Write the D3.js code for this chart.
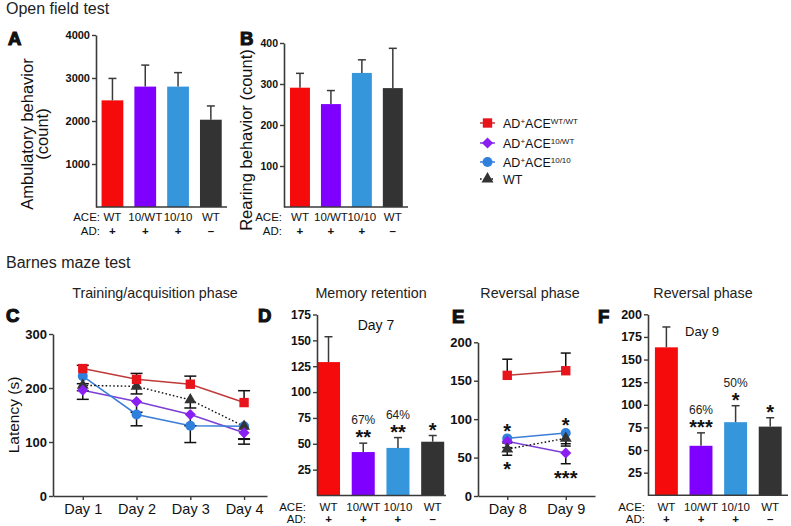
<!DOCTYPE html>
<html><head><meta charset="utf-8">
<script src="https://cdn.jsdelivr.net/npm/d3@7"></script>
<style>
body{margin:0;background:#fff;}
svg{display:block;}
</style></head><body>
<svg id="chart" width="791" height="526"></svg>
<script>
// ---------------- DATA ----------------
const aceLabels = ["WT", "10/WT", "10/10", "WT"];
const adLabels = ["+", "+", "+", "\u2013"];
const legendSup = ["WT/WT", "10/WT", "10/10"];

const ambulatoryMean = [2480, 2800, 2800, 2030];
const ambulatorySem  = [510, 500, 325, 320];
const ambulatoryTicks = [1000, 2000, 3000, 4000];

const rearingMean = [291, 251, 327, 290];
const rearingSem  = [35, 33, 32, 97];
const rearingTicks = [100, 200, 300, 400];

const trainingDays = ["Day 1", "Day 2", "Day 3", "Day 4"];
const trainingRed = [236, 216, 207, 173];
const trainingRedSem = [6, 11, 15, 22];
const trainingPurple = [196, 175, 151, 117];
const trainingPurpleSem = [17, 20, 21, 21];
const trainingBlue = [222, 151, 130, 129];
const trainingBlueSem = [14, 21, 31, 24];
const trainingWT = [205, 203, 178, 129];
const trainingWTSem = [10, 14, 15, 23];
const trainingTicks = [0, 100, 200, 300];

const retentionMean = [129, 42, 46, 52];
const retentionSem  = [24.5, 8.6, 10, 6];
const retentionTicks = [25, 50, 75, 100, 125, 150, 175];
const retentionPct = ["", "67%", "64%", ""];
const retentionStars = ["", "**", "**", "*"];

const reversalDays = ["Day 8", "Day 9"];
const reversalRed = [157, 163];
const reversalRedSem = [21, 23];
const reversalPurple = [71, 56];
const reversalPurpleSem = [8, 14];
const reversalBlue = [75, 82];
const reversalBlueSem = [6, 14];
const reversalWT = [61, 75];
const reversalWTSem = [8, 10];
const reversalStarsAbove = ["*", "*"];
const reversalStarsBelow = ["*", "***"];
const reversalTicks = [0, 50, 100, 150, 200];

const day9Mean = [163.5, 54.7, 80.8, 75.9];
const day9Sem  = [22.5, 14.3, 18.2, 9.8];
const day9Ticks = [25, 50, 75, 100, 125, 150, 175, 200];
const day9Pct = ["", "66%", "50%", ""];
const day9Stars = ["", "***", "*", "*"];

// ---------------- STYLE ----------------
const FONT = '"Liberation Sans", Arial, Helvetica, sans-serif';
const AXIS = "#3a3a3a";
const barColors = ["#f50b0b", "#7f00ff", "#3596dc", "#333333"];
const markerFill = ["#e8141c", "#8a1ff2", "#2f7fdc", "#333333"];
const lineColor = ["#c03a3a", "#7b3fd6", "#3a7ed6", "#111111"];
const ROW_FONT = 11.5;

const svg = d3.select("#chart").style("font-family", FONT);

function txt(x, y, s, size, opts = {}) {
  const t = svg.append("text").attr("x", x).attr("y", y).text(s)
    .style("font-size", size + "px").attr("fill", opts.fill || "#111")
    .attr("text-anchor", opts.anchor || "start")
    .style("font-weight", opts.weight || "normal");
  if (opts.rotate) t.attr("transform", `rotate(-90,${x},${y})`);
  return t;
}
function letter(x, y, s) {
  txt(x, y, s, 18.5, { weight: "bold" }).attr("stroke", "#111").attr("stroke-width", 1.2);
}
function styleAxis(g, size, bold) {
  g.select(".domain").attr("stroke", AXIS).attr("stroke-width", 1.6);
  g.selectAll(".tick line").attr("stroke", AXIS).attr("stroke-width", 1.4);
  g.selectAll(".tick text").attr("fill", "#111").style("font-size", size + "px")
    .style("font-weight", bold ? "bold" : "normal").style("font-family", FONT);
}
function starBase(cy, fs) { return cy + 0.56 * fs; }
const fmt = d3.format("d");

// ---------------- BAR PANEL ----------------
function barPanel(o) {
  const y = d3.scaleLinear().domain([0, o.max]).range([o.yBottom, o.yTop]);
  const x = d3.scaleBand().domain(d3.range(o.means.length)).range(o.band)
    .paddingInner(o.padIn).paddingOuter(o.padOut);
  const g = svg.append("g");
  const cx = i => x(i) + x.bandwidth() / 2;
  g.selectAll("rect").data(o.means).join("rect")
    .attr("x", (d, i) => x(i)).attr("width", x.bandwidth())
    .attr("y", d => y(d)).attr("height", d => y(0) - y(d))
    .attr("fill", (d, i) => barColors[i]);
  o.means.forEach((m, i) => {
    const top = y(m + o.sems[i]);
    g.append("line").attr("x1", cx(i)).attr("x2", cx(i)).attr("y1", y(m)).attr("y2", top)
      .attr("stroke", "#3a3a3a").attr("stroke-width", 1.5);
    g.append("line").attr("x1", cx(i) - 4).attr("x2", cx(i) + 4).attr("y1", top).attr("y2", top)
      .attr("stroke", "#3a3a3a").attr("stroke-width", 1.5);
    if (o.pct && o.pct[i]) txt(cx(i), top - 23 + 4.3, o.pct[i], 12, { anchor: "middle", fill: "#222" });
    if (o.stars && o.stars[i]) txt(cx(i), starBase(top - 10, 20), o.stars[i], 20, { anchor: "middle", weight: "bold" });
  });
  const ya = g.append("g").attr("transform", `translate(${o.axisX},0)`)
    .call(d3.axisLeft(y).tickValues(o.ticks).tickFormat(fmt).tickSize(4).tickPadding(2).tickSizeOuter(0));
  styleAxis(ya, o.tickFont, true);
  g.append("line").attr("x1", o.axisX).attr("x2", o.axisEnd).attr("y1", y(0)).attr("y2", y(0))
    .attr("stroke", AXIS).attr("stroke-width", 1.6);
  // ACE / AD rows
  txt(o.labelX, o.aceY, "ACE:", ROW_FONT, { anchor: "end" });
  txt(o.labelX, o.adY, "AD:", ROW_FONT, { anchor: "end" });
  aceLabels.forEach((s, i) => txt(cx(i), o.aceY, s, ROW_FONT, { anchor: "middle" }));
  adLabels.forEach((s, i) => txt(cx(i), o.adY, s, ROW_FONT, { anchor: "middle", weight: "bold" }));
  return { x, y };
}

// ---------------- LINE PANEL ----------------
function drawMarker(g, kind, px, py, fill) {
  if (kind === "diamond") {
    g.append("path").attr("d", d3.symbol(d3.symbolSquare, 62)())
      .attr("transform", `translate(${px},${py}) rotate(45)`).attr("fill", fill);
  } else {
    const t = { square: d3.symbolSquare, circle: d3.symbolCircle, triangle: d3.symbolTriangle }[kind];
    const s = { square: 88, circle: 78, triangle: 62 }[kind];
    g.append("path").attr("d", d3.symbol(t, s)()).attr("transform", `translate(${px},${py})`).attr("fill", fill);
  }
}
function linePanel(o) {
  const y = d3.scaleLinear().domain([0, o.max]).range([o.yBottom, o.yTop]);
  const x = d3.scalePoint().domain(o.days).range(o.xRange).padding(o.pad).align(o.align);
  const g = svg.append("g");
  const ya = g.append("g").attr("transform", `translate(${o.xRange[0]},0)`)
    .call(d3.axisLeft(y).tickValues(o.ticks).tickFormat(fmt).tickSize(4).tickPadding(2).tickSizeOuter(0));
  styleAxis(ya, o.tickFont, true);
  const xa = g.append("g").attr("transform", `translate(0,${o.yBottom})`)
    .call(d3.axisBottom(x).tickSize(4).tickPadding(4).tickSizeOuter(0));
  styleAxis(xa, 14.5, false);
  const line = d3.line().x((d, i) => x(o.days[i])).y(d => y(d));
  o.series.forEach(s => {
    g.append("path").attr("d", line(s.vals)).attr("fill", "none")
      .attr("stroke", lineColor[s.ci]).attr("stroke-width", s.dotted ? 1.4 : 1.5)
      .attr("stroke-dasharray", s.dotted ? "1.6,2.2" : null);
  });
  o.series.forEach(s => {
    s.vals.forEach((v, i) => {
      const px = x(o.days[i]);
      const e = y(v + s.dir * s.sems[i]);
      g.append("line").attr("x1", px).attr("x2", px).attr("y1", y(v)).attr("y2", e)
        .attr("stroke", "#111").attr("stroke-width", 1.5);
      g.append("line").attr("x1", px - o.cap).attr("x2", px + o.cap).attr("y1", e).attr("y2", e)
        .attr("stroke", "#111").attr("stroke-width", 1.5);
    });
  });
  o.order.forEach(k => {
    const s = o.series[k];
    s.vals.forEach((v, i) => drawMarker(g, s.marker, x(o.days[i]), y(v), markerFill[s.ci]));
  });
  return { x, y };
}

// ---------------- TITLES ----------------
txt(6, 13.5, "Open field test", 16, { fill: "#222" });
txt(6, 268, "Barnes maze test", 16, { fill: "#222" });

// ---------------- PANEL A ----------------
letter(8, 45, "A");
barPanel({ means: ambulatoryMean, sems: ambulatorySem, max: 4000, ticks: ambulatoryTicks,
  yBottom: 207, yTop: 35, band: [96, 227.3], padIn: 0.337, padOut: 0.17, axisX: 96, axisEnd: 227,
  tickFont: 11, labelX: 100, aceY: 221, adY: 234.5 });
txt(33, 134, "Ambulatory behavior", 16.5, { anchor: "middle", rotate: true });
txt(48, 134, "(count)", 16.5, { anchor: "middle", rotate: true });

// ---------------- PANEL B ----------------
letter(240, 45, "B");
barPanel({ means: rearingMean, sems: rearingSem, max: 400, ticks: rearingTicks,
  yBottom: 207, yTop: 43, band: [284, 408.8], padIn: 0.355, padOut: 0.194, axisX: 284, axisEnd: 408,
  tickFont: 10.5, labelX: 282, aceY: 221, adY: 234.5 });
txt(252, 140, "Rearing behavior (count)", 16.5, { anchor: "middle", rotate: true });

// ---------------- LEGEND ----------------
const legendY = [123, 143, 162, 179];
const legendMarkers = ["square", "diamond", "circle", "triangle"];
legendY.forEach((ly, i) => {
  const g = svg.append("g");
  g.append("line").attr("x1", 480).attr("x2", 495).attr("y1", ly).attr("y2", ly)
    .attr("stroke", lineColor[i]).attr("stroke-width", 1.5)
    .attr("stroke-dasharray", i === 3 ? "1.6,2.2" : null);
  drawMarker(g, legendMarkers[i], 487.5, ly, markerFill[i]);
  const t = svg.append("text").attr("x", 503).attr("y", ly + 4.5).style("font-size", "12.5px").attr("fill", "#111");
  if (i < 3) {
    t.append("tspan").text("AD");
    t.append("tspan").text("+").attr("dy", -4).style("font-size", "8px");
    t.append("tspan").text("ACE").attr("dy", 4);
    t.append("tspan").text(legendSup[i]).attr("dy", -4).style("font-size", "8px");
  } else {
    t.text("WT");
  }
});

// ---------------- PANEL C ----------------
txt(155, 298, "Training/acquisition phase", 14.3, { anchor: "middle", fill: "#222" });
letter(6, 322, "C");
linePanel({ days: trainingDays, max: 300, ticks: trainingTicks, yBottom: 496, yTop: 334,
  xRange: [53, 267], pad: 0.49, align: 0.565, tickFont: 13, cap: 6,
  series: [
    { vals: trainingRed, sems: trainingRedSem, dir: 1, ci: 0, marker: "square" },
    { vals: trainingPurple, sems: trainingPurpleSem, dir: -1, ci: 1, marker: "diamond" },
    { vals: trainingBlue, sems: trainingBlueSem, dir: -1, ci: 2, marker: "circle" },
    { vals: trainingWT, sems: trainingWTSem, dir: -1, ci: 3, marker: "triangle", dotted: true }
  ], order: [2, 3, 1, 0] });
txt(19, 415, "Latency (s)", 15.5, { anchor: "middle", rotate: true });

// ---------------- PANEL D ----------------
txt(371, 298, "Memory retention", 14.3, { anchor: "middle", fill: "#222" });
letter(258, 322, "D");
barPanel({ means: retentionMean, sems: retentionSem, max: 175, ticks: retentionTicks,
  yBottom: 495.5, yTop: 314.5, band: [317, 444.2], padIn: 0.337, padOut: 0, axisX: 317, axisEnd: 446,
  tickFont: 12, labelX: 306, aceY: 511, adY: 522.5, pct: retentionPct, stars: retentionStars });
txt(376, 330, "Day 7", 14, { anchor: "middle" });

// ---------------- PANEL E ----------------
txt(530, 298, "Reversal phase", 14.3, { anchor: "middle", fill: "#222" });
letter(452, 323, "E");
const E = linePanel({ days: reversalDays, max: 200, ticks: reversalTicks, yBottom: 496, yTop: 342.3,
  xRange: [478, 595], pad: 0.5, align: 0.5, tickFont: 13, cap: 5,
  series: [
    { vals: reversalRed, sems: reversalRedSem, dir: 1, ci: 0, marker: "square" },
    { vals: reversalPurple, sems: reversalPurpleSem, dir: -1, ci: 1, marker: "diamond" },
    { vals: reversalBlue, sems: reversalBlueSem, dir: -1, ci: 2, marker: "circle" },
    { vals: reversalWT, sems: reversalWTSem, dir: -1, ci: 3, marker: "triangle", dotted: true }
  ], order: [2, 1, 3, 0] });
reversalDays.forEach((d, i) => {
  const px = E.x(d);
  const topV = Math.max(reversalBlue[i], reversalPurple[i], reversalWT[i]);
  const lowV = Math.min(reversalBlue[i] - reversalBlueSem[i], reversalPurple[i] - reversalPurpleSem[i], reversalWT[i] - reversalWTSem[i]);
  txt(px, starBase(E.y(topV) - 12, 20), reversalStarsAbove[i], 20, { anchor: "middle", weight: "bold" });
  txt(px, starBase(E.y(lowV) + 10, 20), reversalStarsBelow[i], 20, { anchor: "middle", weight: "bold" });
});

// ---------------- PANEL F ----------------
txt(703, 298, "Reversal phase", 14.3, { anchor: "middle", fill: "#222" });
letter(598, 323, "F");
barPanel({ means: day9Mean, sems: day9Sem, max: 200, ticks: day9Ticks,
  yBottom: 495.3, yTop: 314.3, band: [648, 788.6], padIn: 0.337, padOut: 0.2, axisX: 648, axisEnd: 788,
  tickFont: 12.5, labelX: 645, aceY: 511, adY: 522.5, pct: day9Pct, stars: day9Stars });
txt(702, 336, "Day 9", 13, { anchor: "middle" });
</script>
</body></html>
